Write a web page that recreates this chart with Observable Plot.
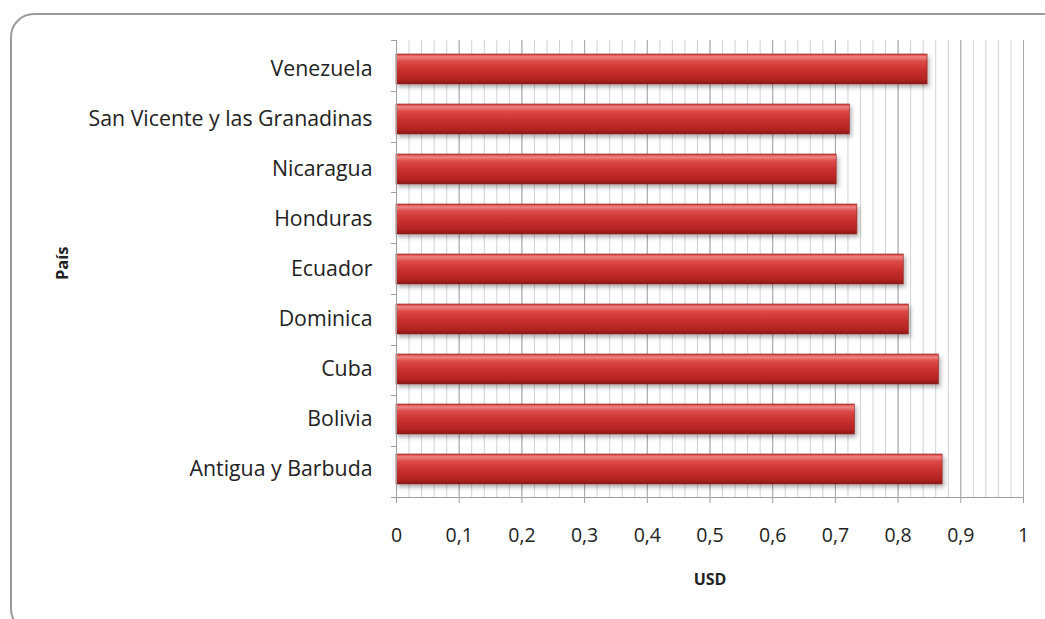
<!DOCTYPE html>
<html>
<head>
<meta charset="utf-8">
<script src="https://cdn.jsdelivr.net/npm/d3@7"></script>
<script src="https://cdn.jsdelivr.net/npm/@observablehq/plot@0.6"></script>
<style>
  html, body { margin: 0; padding: 0; background: #fff; overflow: hidden; width: 1045px; height: 619px; }
  #wrap { position: relative; width: 1045px; height: 619px; }
  #frame { position: absolute; left: 10px; top: 13px; width: 1060px; height: 620px;
           border: 2px solid #9a9a9a; border-radius: 24px; box-sizing: border-box; pointer-events: none; }
  #chart { position: absolute; left: 0; top: 0; }
</style>
</head>
<body>
<div id="wrap">
  <div id="chart"></div>
  <div id="frame"></div>
</div>
<script>
const countries = ["Venezuela", "San Vicente y las Granadinas", "Nicaragua", "Honduras", "Ecuador", "Dominica", "Cuba", "Bolivia", "Antigua y Barbuda"];
const values = [0.847, 0.723, 0.702, 0.735, 0.809, 0.817, 0.865, 0.731, 0.871];
const xTicks = [0, 0.1, 0.2, 0.3, 0.4, 0.5, 0.6, 0.7, 0.8, 0.9, 1];
const xLabel = "USD";
const yLabel = "País";

const data = countries.map((c, i) => ({country: c, value: values[i]}));
const minorGrid = d3.range(0, 1.0001, 0.02);
const fmt = d => String(+d.toFixed(1)).replace(".", ",");
const font = "'Open Sans', Lato, sans-serif";

const plot = Plot.plot({
  width: 1045,
  height: 619,
  marginLeft: 396,
  marginRight: 22,
  marginTop: 40,
  marginBottom: 122,
  style: {fontFamily: font, background: "transparent", color: "#222"},
  x: {domain: [0, 1]},
  y: {domain: countries, paddingInner: 0.41, paddingOuter: 0.205, align: 0.5},
  marks: [
    Plot.ruleX(minorGrid, {stroke: "#d2d2d2", strokeWidth: 1}),
    Plot.ruleX(xTicks, {stroke: "#a8a8a8", strokeWidth: 1}),
    Plot.barX(data, {x: "value", y: "country", fill: "url(#barGrad)", stroke: "#8e1c1c", strokeWidth: 0.6}),
    Plot.ruleX([0], {stroke: "#a0a0a0"}),
    Plot.axisX({ticks: xTicks, tickFormat: fmt, tickSize: 6, tickPadding: 25, fontSize: 19.5, stroke: "#a0a0a0", label: null, fill: "#222"}),
    Plot.axisY({tickSize: 0, tickPadding: 24, fontSize: 21.3, label: null, fill: "#222"}),
    Plot.text([xLabel], {frameAnchor: "bottom", dy: 87, fontSize: 16, fontWeight: "bold", fill: "#222"}),
    Plot.text([yLabel], {frameAnchor: "left", dx: -334, rotate: -90, fontSize: 16.5, fontWeight: "bold", fill: "#222"})
  ]
});

const svg = d3.select(plot);
const defs = svg.insert("defs", ":first-child");
const g = defs.append("linearGradient").attr("id", "barGrad").attr("x1", 0).attr("y1", 0).attr("x2", 0).attr("y2", 1);
[[0, "#d43c3a"], [0.1, "#ee8583"], [0.24, "#dc4a47"], [0.55, "#c8302e"], [0.85, "#b22422"], [1, "#8a1918"]]
  .forEach(([o, c]) => g.append("stop").attr("offset", o).attr("stop-color", c));
const f = defs.append("filter").attr("id", "barShadow").attr("x", "-5%").attr("y", "-20%").attr("width", "115%").attr("height", "160%");
f.append("feDropShadow").attr("dx", 2).attr("dy", 3).attr("stdDeviation", 2).attr("flood-color", "#000").attr("flood-opacity", 0.3);
svg.selectAll("g[fill='url(#barGrad)']").attr("filter", "url(#barShadow)");

// bottom axis line and left-axis ticks at category boundaries, positioned by the scales
const xs = plot.scale("x"), ys = plot.scale("y");
const [y0, y1] = ys.range;
const xa = xs.apply(0), xb = xs.apply(1);
const extra = svg.append("g").attr("stroke", "#a0a0a0");
extra.append("line").attr("x1", xa).attr("x2", xb).attr("y1", y1 + 0.5).attr("y2", y1 + 0.5);
const step = (y1 - y0) / countries.length;
for (let i = 0; i <= countries.length; i++) {
  const yy = Math.round(y0 + i * step) + 0.5;
  extra.append("line").attr("x1", xa - 5).attr("x2", xa).attr("y1", yy).attr("y2", yy);
}
// nudge the rotated axis title to the reference's vertical position
svg.selectAll("text").filter(function() { return this.textContent === yLabel; })
  .each(function() {
    const t = this.getAttribute("transform") || "";
    this.setAttribute("transform", t.replace(/translate\(([^,]+),([^)]+)\)/, (m, a, b) => `translate(${a},${+b + 11})`));
  });

document.getElementById("chart").appendChild(plot);
</script>
</body>
</html>
